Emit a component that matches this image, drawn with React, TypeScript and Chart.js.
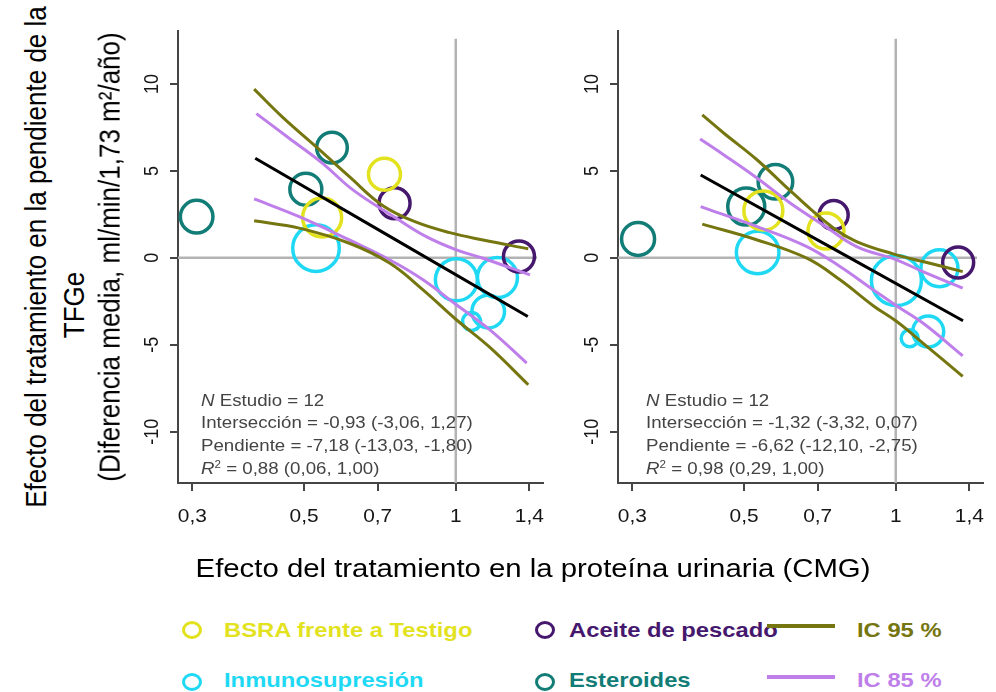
import React, { useEffect, useRef } from 'react';
import { Chart, registerables } from 'chart.js';

Chart.register(...registerables);

// ---------------- data ----------------
const categoryNames = ['BSRA frente a Testigo', 'Aceite de pescado', 'Inmunosupresión', 'Esteroides'];
const categoryColors = ['#e2e21e', '#45186e', '#1fd9f4', '#127d76'];
// category of each study (index into categoryNames)
const studyCategory = [3, 3, 3, 0, 0, 1, 2, 1, 2, 2, 2, 2];

const leftStudyX = [0.306, 0.568, 0.504, 0.722, 0.543, 0.756, 0.528, 1.335, 1.003, 1.21, 1.16, 1.075];
const leftStudyY = [2.37, 6.34, 3.95, 4.81, 2.32, 3.14, 0.56, 0.08, -1.26, -1.13, -3.09, -3.66];
const leftStudyWeight = [16.3, 15.3, 16, 16, 19.5, 15.5, 23.3, 15.5, 21, 20, 16.3, 9];

const rightStudyX = [0.308, 0.577, 0.505, 0.546, 0.727, 0.753, 0.532, 1.33, 1.221, 1.003, 1.16, 1.066];
const rightStudyY = [1.09, 4.38, 2.95, 2.72, 1.55, 2.47, 0.31, -0.27, -0.59, -1.30, -4.24, -4.62];
const rightStudyWeight = [16.5, 17.3, 18.5, 19.5, 18, 14.5, 21.3, 15.5, 18.5, 25, 15.5, 8.5];

// regression lines
const leftFitX = [0.40, 1.39];
const leftFitY = [5.73, -3.37];
const rightFitX = [0.41, 1.36];
const rightFitY = [4.77, -3.62];

// confidence bands
const leftCI95UpX = [0.398, 0.453, 0.528, 0.615, 0.717, 0.835, 0.973, 1.133, 1.393];
const leftCI95UpY = [9.71, 8.10, 6.40, 4.67, 3.0, 2.05, 1.45, 1.03, 0.52];
const leftCI95LoX = [0.398, 0.489, 0.615, 0.739, 0.861, 1.003, 1.169, 1.393];
const leftCI95LoY = [2.13, 1.71, 0.84, -0.30, -1.84, -3.56, -5.15, -7.30];
const leftCI85UpX = [0.402, 0.467, 0.544, 0.625, 0.762, 0.874, 1.003, 1.133, 1.404];
const leftCI85UpY = [8.30, 6.88, 5.44, 3.91, 2.28, 1.22, 0.46, -0.02, -0.98];
const leftCI85LoX = [0.398, 0.489, 0.615, 0.739, 0.861, 1.003, 1.169, 1.383];
const leftCI85LoY = [3.39, 2.37, 1.03, -0.11, -1.26, -2.70, -4.14, -6.05];

const rightCI95UpX = [0.413, 0.456, 0.531, 0.618, 0.752, 0.836, 0.988, 1.132, 1.358];
const rightCI95UpY = [8.22, 7.17, 5.63, 3.85, 1.72, 0.94, 0.23, -0.21, -0.79];
const rightCI95LoX = [0.413, 0.531, 0.666, 0.775, 0.902, 1.003, 1.132, 1.358];
const rightCI95LoY = [1.94, 1.03, -0.02, -1.26, -2.75, -3.65, -4.90, -6.82];
const rightCI85UpX = [0.409, 0.456, 0.531, 0.618, 0.719, 0.836, 1.003, 1.132, 1.358];
const rightCI85UpY = [6.84, 5.92, 4.58, 3.14, 1.88, 0.65, -0.11, -0.79, -1.74];
const rightCI85LoX = [0.410, 0.531, 0.666, 0.775, 0.902, 1.003, 1.132, 1.358];
const rightCI85LoY = [2.95, 1.80, 0.65, -0.50, -1.84, -2.75, -3.75, -5.63];

// reference lines
const refVertX = [1, 1];
const refVertY = [-12.95, 12.6];
const refHorX = [0.281, 1.45];
const refHorY = [0, 0];

// axes
const xTickValues = [0.3, 0.5, 0.7, 1, 1.4];
const xTickLabels = ['0,3', '0,5', '0,7', '1', '1,4'];
const yTickValues = [-10, -5, 0, 5, 10];
const yTickLabels = ['-10', '-5', '0', '5', '10'];
const xMin = 0.281, xMax = 1.49, yMin = -12.95, yMax = 13.05;

const leftStats = ['Estudio = 12', 'Intersección = -0,93 (-3,06, 1,27)', 'Pendiente = -7,18 (-13,03, -1,80)', ' = 0,88 (0,06, 1,00)'];
const rightStats = ['Estudio = 12', 'Intersección = -1,32 (-3,32, 0,07)', 'Pendiente = -6,62 (-12,10, -2,75)', ' = 0,98 (0,29, 1,00)'];

const yTitleLines = ['Efecto del tratamiento en la pendiente de la', 'TFGe', '(Diferencia media, ml/min/1,73 m²/año)'];
const xTitle = 'Efecto del tratamiento en la proteína urinaria (CMG)';
const ciNames = ['IC 95 %', 'IC 85 %'];

// ---------------- styles ----------------
const FONT = '"Liberation Sans", Arial, Helvetica, sans-serif';
const AXIS = '#454545';
const OLIVE = '#767611';
const LAV = '#bf7fea';
const REF = '#b3b3b3';
const SX = 1.16;

const zip = (xs: number[], ys: number[]) => xs.map((x, i) => ({ x, y: ys[i] }));

const tickLabelPlugin = {
  id: 'tickLabelPlugin',
  afterDraw(chart: any) {
    const ctx = chart.ctx;
    const xs = chart.scales.x;
    const ys = chart.scales.y;
    const area = chart.chartArea;
    ctx.save();
    ctx.fillStyle = '#161616';
    ctx.font = `18px ${FONT}`;
    ctx.textAlign = 'center';
    ctx.textBaseline = 'alphabetic';
    xTickValues.forEach((v, i) => {
      const px = xs.getPixelForValue(v);
      ctx.save();
      ctx.translate(px, area.bottom + 38.7);
      ctx.scale(SX, 1);
      ctx.fillText(xTickLabels[i], 0, 0);
      ctx.restore();
    });
    yTickValues.forEach((v, i) => {
      const py = ys.getPixelForValue(v);
      ctx.save();
      ctx.translate(area.left - 20, py);
      ctx.rotate(-Math.PI / 2);
      ctx.scale(1, SX);
      ctx.fillText(yTickLabels[i], 0, 0);
      ctx.restore();
    });
    ctx.restore();
  },
};

type PanelProps = {
  left: number;
  sx: number[]; sy: number[]; sw: number[];
  fitX: number[]; fitY: number[];
  u95x: number[]; u95y: number[]; l95x: number[]; l95y: number[];
  u85x: number[]; u85y: number[]; l85x: number[]; l85y: number[];
};

function Panel(p: PanelProps) {
  const ref = useRef<HTMLCanvasElement | null>(null);
  useEffect(() => {
    if (!ref.current) return;
    const bubbleSets = categoryNames.map((name, c) => ({
      type: 'bubble' as const,
      label: name,
      data: p.sx
        .map((x, i) => ({ x, y: p.sy[i], r: p.sw[i], c: studyCategory[i] }))
        .filter((d) => d.c === c)
        .map(({ x, y, r }) => ({ x, y, r })),
      borderColor: categoryColors[c],
      backgroundColor: 'rgba(0,0,0,0)',
      borderWidth: 3.5,
      hoverRadius: 0,
      order: 2,
    }));
    const lineSet = (data: any[], color: string, width: number, order: number, label: string) => ({
      type: 'line' as const,
      label,
      data,
      borderColor: color,
      backgroundColor: color,
      borderWidth: width,
      pointRadius: 0,
      pointHoverRadius: 0,
      fill: false,
      tension: 0.4,
      order,
    });
    const chart = new Chart(ref.current, {
      type: 'bubble',
      data: {
        datasets: [
          lineSet(zip(refVertX, refVertY), REF, 2.5, 3, 'ref1'),
          lineSet(zip(refHorX, refHorY), REF, 2.5, 3, 'ref0'),
          ...bubbleSets,
          lineSet(zip(p.u95x, p.u95y), OLIVE, 3, 1, 'IC 95 % sup'),
          lineSet(zip(p.l95x, p.l95y), OLIVE, 3, 1, 'IC 95 % inf'),
          lineSet(zip(p.u85x, p.u85y), LAV, 3, 1, 'IC 85 % sup'),
          lineSet(zip(p.l85x, p.l85y), LAV, 3, 1, 'IC 85 % inf'),
          lineSet(zip(p.fitX, p.fitY), '#000000', 3, 0, 'Ajuste'),
        ] as any,
      },
      options: {
        animation: false,
        responsive: false,
        devicePixelRatio: 1,
        events: [],
        layout: { padding: { left: 8, right: 13, top: 31, bottom: 0 }, autoPadding: false } as any,
        plugins: { legend: { display: false }, tooltip: { enabled: false }, title: { display: false } },
        scales: {
          x: {
            type: 'logarithmic',
            min: xMin,
            max: xMax,
            afterBuildTicks: (s: any) => { s.ticks = xTickValues.map((v) => ({ value: v })); },
            afterFit: (s: any) => { s.height = 57; },
            ticks: { display: false },
            grid: { display: true, drawOnChartArea: false, drawTicks: true, tickLength: 8, color: AXIS, tickColor: AXIS, lineWidth: 2, tickWidth: 2 },
            border: { display: true, color: AXIS, width: 2 },
          },
          y: {
            type: 'linear',
            min: yMin,
            max: yMax,
            afterBuildTicks: (s: any) => { s.ticks = yTickValues.map((v) => ({ value: v })); },
            afterFit: (s: any) => { s.width = 50; },
            ticks: { display: false },
            grid: { display: true, drawOnChartArea: false, drawTicks: true, tickLength: 8, color: AXIS, tickColor: AXIS, lineWidth: 2, tickWidth: 2 },
            border: { display: true, color: AXIS, width: 2 },
          },
        },
      } as any,
      plugins: [tickLabelPlugin],
    });
    return () => chart.destroy();
  }, []);
  return (
    <canvas
      ref={ref}
      width={436}
      height={540}
      style={{ position: 'absolute', left: p.left, top: 0, width: 436, height: 540, display: 'block' }}
    />
  );
}

function Stats({ left, lines }: { left: number; lines: string[] }) {
  return (
    <div
      style={{
        position: 'absolute', left, top: 389.8, fontFamily: FONT, fontSize: 17, lineHeight: '22.6px',
        color: '#444', whiteSpace: 'nowrap', transform: 'scaleX(1.1)', transformOrigin: 'left top',
      }}
    >
      <div><i>N</i> {lines[0]}</div>
      <div>{lines[1]}</div>
      <div>{lines[2]}</div>
      <div><i>R</i><sup style={{ fontSize: '0.62em', verticalAlign: '0.55em', lineHeight: 0 }}>2</sup>{lines[3]}</div>
    </div>
  );
}

function Marker({ x, y, color }: { x: number; y: number; color: string }) {
  return (
    <div style={{
      position: 'absolute', left: x - 10, top: y - 9, width: 20, height: 18, boxSizing: 'border-box',
      border: `3.5px solid ${color}`, borderRadius: '50%',
    }} />
  );
}

function LegendText({ x, y, color, text }: { x: number; y: number; color: string; text: string }) {
  return (
    <div style={{
      position: 'absolute', left: x, top: y - 11.8, height: 24, lineHeight: '24px', fontFamily: FONT, fontWeight: 'bold',
      fontSize: 20.5, color, whiteSpace: 'nowrap', transform: 'scaleX(1.16)', transformOrigin: 'left center',
    }}>{text}</div>
  );
}

export default function App() {
  const yCenters = [35.8, 74.2, 109.2];
  const yMids = [256.5, 305, 256.5];
  return (
    <div style={{ position: 'fixed', left: 0, top: 0, width: 996, height: 692, background: '#fff', overflow: 'hidden' }}>
      <Panel left={120} sx={leftStudyX} sy={leftStudyY} sw={leftStudyWeight} fitX={leftFitX} fitY={leftFitY}
        u95x={leftCI95UpX} u95y={leftCI95UpY} l95x={leftCI95LoX} l95y={leftCI95LoY}
        u85x={leftCI85UpX} u85y={leftCI85UpY} l85x={leftCI85LoX} l85y={leftCI85LoY} />
      <Panel left={560} sx={rightStudyX} sy={rightStudyY} sw={rightStudyWeight} fitX={rightFitX} fitY={rightFitY}
        u95x={rightCI95UpX} u95y={rightCI95UpY} l95x={rightCI95LoX} l95y={rightCI95LoY}
        u85x={rightCI85UpX} u85y={rightCI85UpY} l85x={rightCI85LoX} l85y={rightCI85LoY} />
      <Stats left={201} lines={leftStats} />
      <Stats left={646} lines={rightStats} />
      {yTitleLines.map((t, i) => (
        <div key={i} style={{
          position: 'absolute', left: yCenters[i] - 300, top: yMids[i] - 15, width: 600, height: 30, lineHeight: '30px',
          textAlign: 'center', fontFamily: FONT, fontSize: 26, color: '#000', whiteSpace: 'nowrap',
          transform: 'rotate(-90deg) scale(1, 1.16)', transformOrigin: 'center center',
        }}>{t}</div>
      ))}
      <div style={{
        position: 'absolute', left: 132.5, top: 552.8, width: 800, height: 30, lineHeight: '30px', textAlign: 'center',
        fontFamily: FONT, fontSize: 25.5, color: '#000', whiteSpace: 'nowrap', transform: 'scaleX(1.15)', transformOrigin: 'center center',
      }}>{xTitle}</div>
      {/* legend */}
      <Marker x={191.8} y={630} color={categoryColors[0]} />
      <LegendText x={223.8} y={630} color={categoryColors[0]} text={categoryNames[0]} />
      <Marker x={545.4} y={630} color={categoryColors[1]} />
      <LegendText x={569} y={630} color={categoryColors[1]} text={categoryNames[1]} />
      <Marker x={191.8} y={681.7} color={categoryColors[2]} />
      <LegendText x={223.8} y={679.5} color={categoryColors[2]} text={categoryNames[2]} />
      <Marker x={545.4} y={681.7} color={categoryColors[3]} />
      <LegendText x={569} y={679.5} color={categoryColors[3]} text={categoryNames[3]} />
      <div style={{ position: 'absolute', left: 767.4, top: 623.7, width: 68, height: 4, background: OLIVE }} />
      <LegendText x={857} y={630} color={OLIVE} text={ciNames[0]} />
      <div style={{ position: 'absolute', left: 767.4, top: 675.3, width: 68, height: 4, background: LAV }} />
      <LegendText x={857} y={679.5} color={LAV} text={ciNames[1]} />
    </div>
  );
}
